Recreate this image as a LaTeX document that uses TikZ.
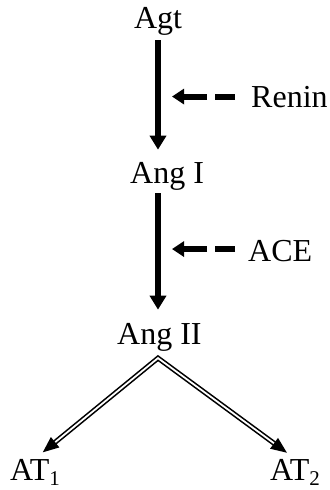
\documentclass[tikz,border=0pt]{standalone}
\usepackage{fontspec}
\setmainfont{Liberation Serif}
\usetikzlibrary{arrows.meta,calc}
\begin{document}
\begin{tikzpicture}[x=1bp,y=-1bp,
  lbl/.style={inner sep=0pt, font=\fontsize{32bp}{36bp}\selectfont},
  mainarrow/.style={line width=5.8bp, -{Triangle[width=16bp,length=14bp]}},
  enzarrow/.style={line width=6bp, dash pattern=on 20bp off 8bp on 80bp, -{Triangle[width=15bp,length=12bp]}},
  dblarrow/.style={double, double distance=1.8bp, line width=1.6bp, line join=miter,
     {Triangle[width=13bp,length=16bp]}-{Triangle[width=13bp,length=16bp]}}
]
\useasboundingbox (0,0) rectangle (329,490);
\node[lbl, anchor=base] (agt) at (158,29) {Agt};
\node[lbl, anchor=base west] (renin) at (251,108) {Renin};
\node[lbl, anchor=base west] (angI) at (130,184) {Ang I};
\node[lbl, anchor=base west] (ace) at (248,261) {ACE};
\node[lbl, anchor=base west] (angII) at (117,344) {Ang II};
\node[lbl, anchor=base west] (at1) at (10,480) {AT\raisebox{-5bp}{\fontsize{21bp}{24bp}\selectfont 1}};
\node[lbl, anchor=base west] (at2) at (270,480) {AT\raisebox{-5bp}{\fontsize{21bp}{24bp}\selectfont 2}};

\draw[mainarrow, shorten <=4bp, shorten >=13bp] (agt.south) -- (agt.south |- angI.north);
\draw[mainarrow, shorten <=2bp, shorten >=13bp] (agt.south |- angI.south) -- (agt.south |- angII.north);

\draw[enzarrow] ([xshift=-16bp,yshift=1bp]renin.west) -- ([xshift=14bp,yshift=1bp]renin.west -| agt.south);
\draw[enzarrow] ([xshift=-13bp,yshift=1.5bp]ace.west) -- ([xshift=14bp,yshift=1.5bp]ace.west -| agt.south);

\coordinate (apex) at ($(agt.south |- angII.south)+(0,7)$);
\draw[dblarrow] ($(at1.north)!10bp!(apex)$) -- (apex) -- ($(at2.north)!10bp!(apex)$);
\end{tikzpicture}
\end{document}
